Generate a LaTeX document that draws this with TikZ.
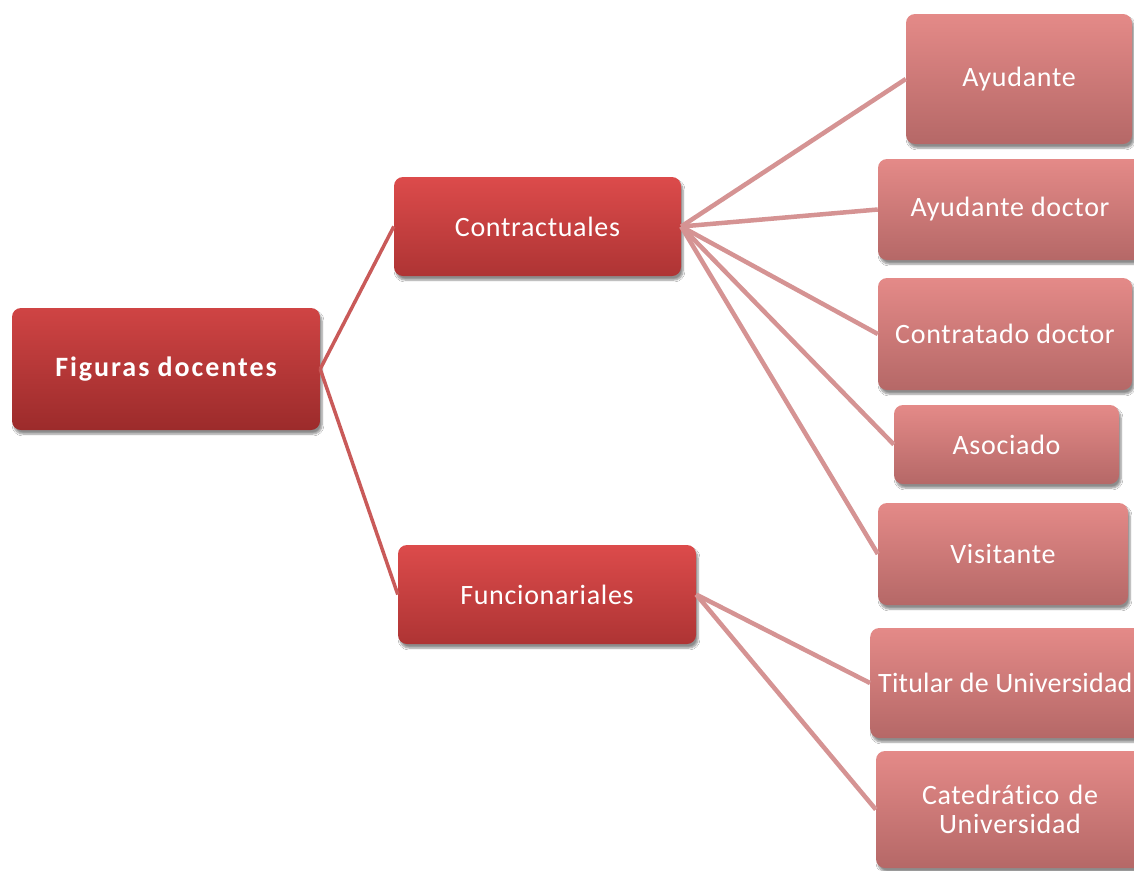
\documentclass[tikz,border=0pt]{standalone}
\usepackage{fontspec}
\setmainfont{Carlito}[Ligatures={NoCommon}]
\usetikzlibrary{shadows.blur}
\definecolor{rootTop}{HTML}{CF4444}
\definecolor{rootBot}{HTML}{9C2B2B}
\definecolor{midTop}{HTML}{DC4B4B}
\definecolor{midBot}{HTML}{AE3434}
\definecolor{leafTop}{HTML}{E48A88}
\definecolor{leafBot}{HTML}{B56867}
\definecolor{edgeDark}{HTML}{C95A59}
\definecolor{edgeLight}{HTML}{D59393}
\tikzset{
  box/.style={rectangle, rounded corners=9pt, text=white, align=center,
    font=\fontsize{28}{29}\selectfont\addfontfeature{LetterSpace=2.5},
    blur shadow={shadow xshift=2pt, shadow yshift=-4pt, shadow blur steps=6, shadow opacity=45}},
  rootbox/.style={box, top color=rootTop, bottom color=rootBot,
    font=\fontsize{28}{29}\selectfont\bfseries\addfontfeature{LetterSpace=7}},
  midbox/.style={box, top color=midTop, bottom color=midBot},
  leafbox/.style={box, top color=leafTop, bottom color=leafBot},
  link1/.style={draw=edgeDark, line width=3.5pt},
  link2/.style={draw=edgeLight, line width=4.5pt}
}
\begin{document}
\begin{tikzpicture}[x=1pt,y=-1pt]
\useasboundingbox (0,0) rectangle (1134,870);
\clip (0,0) rectangle (1134,870);
\fill[white] (0,0) rectangle (1134,870);

% level 0 and 1
\node[rootbox, minimum width=308pt, minimum height=122pt] (root) at (166,369) {Figuras docentes};
\node[midbox, minimum width=287pt, minimum height=99pt] (contr) at (537.5,226.5) {Contractuales};
\node[midbox, minimum width=298pt, minimum height=99pt] (func) at (547,594.5) {Funcionariales};

% leaves
\node[leafbox, minimum width=226pt, minimum height=130pt] (ayu) at (1019,79) {Ayudante};
\node[leafbox, minimum width=264pt, minimum height=101pt] (ayud) at (1010,209.5) {Ayudante doctor};
\node[leafbox, minimum width=254pt, minimum height=112pt] (contd) at (1005,334) {Contratado doctor};
\node[leafbox, minimum width=225pt, minimum height=79pt] (asoc) at (1006.5,444.5) {Asociado};
\node[leafbox, minimum width=250pt, minimum height=102pt] (visit) at (1003,554) {Visitante};
\node[leafbox, anchor=west, minimum width=282pt, minimum height=110pt,
      inner xsep=8pt, font=\fontsize{28}{29}\selectfont\addfontfeature{LetterSpace=0.8}]
      (tit) at (870,683) {\makebox[266pt][l]{Titular de Universidad}};
\node[leafbox, minimum width=268pt, minimum height=117pt, text width=250pt] (cat) at (1010,809.5) {Catedrático de\\Universidad};

% connectors
\draw[link1] (root.east) -- (contr.west);
\draw[link1] (root.east) -- (func.west);
\foreach \n in {ayu,ayud,contd,asoc,visit}
  \draw[link2] (contr.east) -- (\n.west);
\foreach \n in {tit,cat}
  \draw[link2] (func.east) -- (\n.west);
\end{tikzpicture}
\end{document}
